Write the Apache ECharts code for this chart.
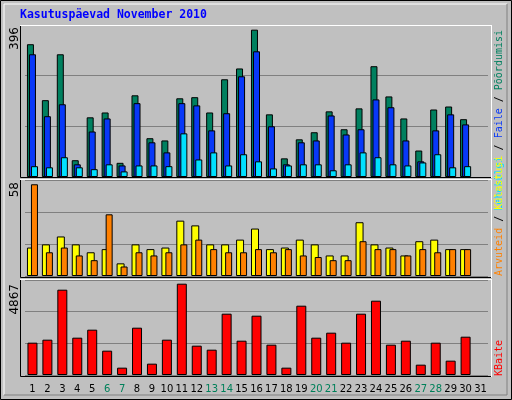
<!DOCTYPE html>
<html><head><meta charset="utf-8">
<script src="https://cdn.jsdelivr.net/npm/echarts@6/dist/echarts.min.js"></script>
<style>html,body{margin:0;padding:0;background:#c0c0c0}#c{width:512px;height:400px}</style>
</head><body><div id="c"></div>
<script>
const days = Array.from({length:31},(_,i)=>String(i+1));
const weekends = ['6','7','13','14','20','21','27','28'];
const pages = [356,206,329,45,160,173,38,219,104,98,211,214,173,262,291,395,168,50,101,120,176,128,184,297,216,157,71,181,189,155,null];
const files = [329,163,195,34,122,157,31,198,93,66,198,192,125,171,270,337,136,34,93,98,165,114,128,208,187,98,42,125,168,141,null];
const hits = [29,26,53,26,21,34,15,31,31,29,117,47,66,31,61,42,23,31,34,34,18,34,66,53,34,31,39,61,26,29,null];
const visits = [18,20,25,20,15,17,8,20,17,18,35,32,20,20,23,30,17,18,23,20,13,13,34,20,18,13,22,23,17,17,null];
const visitors = [58,15,18,13,10,39,6,15,13,15,20,23,17,15,15,17,15,17,13,12,10,10,22,17,17,13,17,15,17,17,null];
const kbytes = [1723,1883,4547,1989,2416,1297,391,2522,604,1883,4867,1563,1350,3268,1829,3161,1616,391,3694,1989,2256,1723,3268,3961,1616,1829,551,1723,764,2042,null];
const maxLabels = ['396','58','4867'];
const mono = 'DejaVu Sans Mono';
const grids = [{left:25,width:463,top:25,height:152},{left:25,width:463,top:180,height:96},{left:25,width:463,top:280,height:95}];
const maxes = [407.5,60.7,5064];
function yA(i){return {gridIndex:i,type:'value',min:0,max:maxes[i],interval:maxes[i]/3,axisLabel:{show:false},axisLine:{show:false},axisTick:{show:false},splitLine:{lineStyle:{color:'#808080',width:1}}};}
function xA(i){return {gridIndex:i,type:'category',data:days,axisTick:{show:false},axisLine:{show:false},
  axisLabel:i<2?{show:false}:{interval:0,margin:9,fontFamily:'DejaVu Sans',fontSize:10,
    formatter:v=>weekends.includes(v)?'{w|'+v+'}':'{n|'+v+'}',rich:{w:{color:'#00805a',fontFamily:'DejaVu Sans',fontSize:10},n:{color:'#000',fontFamily:'DejaVu Sans',fontSize:10}}}};}
const bs = (c)=>({color:c,borderColor:'#000',borderWidth:1});
const series=[
 {type:'bar',xAxisIndex:0,yAxisIndex:0,data:pages,barWidth:7,barGap:'-71%',itemStyle:bs('#00805f')},
 {type:'bar',xAxisIndex:0,yAxisIndex:0,data:files,barWidth:7,barGap:'-71%',itemStyle:bs('#0838f8')},
 {type:'bar',xAxisIndex:0,yAxisIndex:0,data:hits,barWidth:7,barGap:'-71%',itemStyle:bs('#00e0ff')},
 {type:'bar',xAxisIndex:1,yAxisIndex:1,data:visits,barWidth:8,barGap:'-50%',itemStyle:bs('#ffff00')},
 {type:'bar',xAxisIndex:1,yAxisIndex:1,data:visitors,barWidth:7,barGap:'-50%',itemStyle:bs('#ff8000')},
 {type:'bar',xAxisIndex:2,yAxisIndex:2,data:kbytes,barWidth:10,itemStyle:bs('#ff0000')}
];
const panels=[[20,25,471,152],[20,179,471,98],[20,279,471,97]];
const gr=[
 {type:'rect',shape:{x:0.5,y:0.5,width:511,height:399},style:{fill:'#c0c0c0',stroke:'#000',lineWidth:1},z:-10},
 {type:'polyline',shape:{points:[[4,395],[4,4],[507,4]]},style:{stroke:'#fff',lineWidth:1,fill:null},z:-9},
 {type:'polyline',shape:{points:[[507,4],[507,395],[4,395]]},style:{stroke:'#808080',lineWidth:1,fill:null},z:-9},
 {type:'text',x:20,y:9,style:{text:'Kasutuspäevad November 2010',fill:'#0000ff',font:'bold 11.5px '+mono}}
];
panels.forEach(p=>{
 gr.push({type:'rect',shape:{x:p[0]+0.5,y:p[1]+0.5,width:p[2],height:p[3]},style:{fill:null,stroke:'#000',lineWidth:1},z:50});
 gr.push({type:'line',shape:{x1:p[0],y1:p[1]+0.5,x2:p[0]+p[2]+1,y2:p[1]+0.5},style:{stroke:'#fff',lineWidth:1},z:51});
 gr.push({type:'line',shape:{x1:p[0]+p[2]+0.5,y1:p[1],x2:p[0]+p[2]+0.5,y2:p[1]+p[3]+1},style:{stroke:'#fff',lineWidth:1},z:51});
});
[[25,maxLabels[0]],[180,maxLabels[1]],[282,maxLabels[2]]].forEach(a=>{
 gr.push({type:'text',x:9,y:a[0]+2,rotation:Math.PI/2,style:{text:a[1],fill:'#000',font:'12px DejaVu Sans',align:'right',verticalAlign:'top'}});
});
function vtext(y,align,parts){
 gr.push({type:'text',x:494,y:y,rotation:Math.PI/2,style:{text:parts.map(p=>'{'+p[1]+'|'+p[0]+'}').join(''),align:align,verticalAlign:'top',
  rich:{g:{fill:'#00805f',font:'10px '+mono},b:{fill:'#0838f8',font:'10px '+mono},c:{fill:'#00e0ff',font:'10px '+mono},k:{fill:'#000',font:'10px '+mono},y:{fill:'#ffff00',font:'10px '+mono},o:{fill:'#ff8000',font:'10px '+mono},r:{fill:'#ff0000',font:'10px '+mono}}},z:60});
}
vtext(30,'right',[['Lehekülgi','c'],[' / ','k'],['Faile','b'],[' / ','k'],['Põõrdumisi','g']]);
vtext(276,'left',[['Arvuteid','o'],[' / ','k'],['Külastusi','y']]);
vtext(376,'left',[['KBaite','r']]);
const chart=echarts.init(document.getElementById('c'));
chart.setOption({animation:false,backgroundColor:'#c0c0c0',grid:grids,xAxis:[0,1,2].map(xA),yAxis:[0,1,2].map(yA),series:series,graphic:gr});
</script></body></html>
